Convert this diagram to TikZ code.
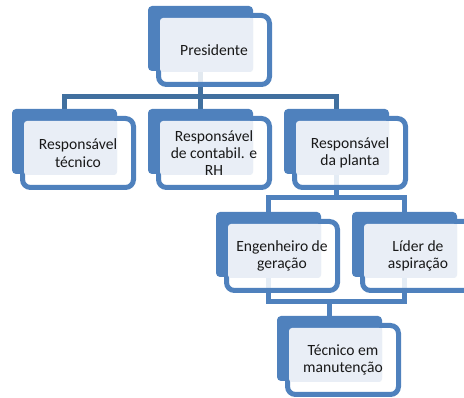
\documentclass[tikz,border=0pt]{standalone}
\usepackage{fontspec}
\setmainfont{Carlito}
\usetikzlibrary{backgrounds}
\definecolor{boxblue}{HTML}{4F81BD}
\definecolor{linkblue}{HTML}{41709F}
\definecolor{paleblue}{HTML}{E9EEF6}

% one chart unit: blue back plate, framed card, pale text plate, text
\newcommand{\orgunit}[4]{%
	\node[backbox] (#1-a) at (#2,#3) {};
	\node[framebox] (#1) at ({#2+10.5},{#3+9.5}) {};
	\node[textbox] (#1-c) at ({#2+12},{#3+12}) {};
	\node[labeltext] (#1-t) at (#1.center) {#4};
}

\begin{document}
\begin{tikzpicture}[x=1pt,y=-1pt,
		backbox/.style={rectangle, fill=boxblue, rounded corners=4pt, anchor=north west,
			minimum width=105pt, minimum height=65pt, inner sep=0pt, outer sep=0pt},
		framebox/.style={rectangle, draw=boxblue, line width=5pt, fill=white, fill opacity=0.85,
			rounded corners=8pt, anchor=north west,
			minimum width=111pt, minimum height=69pt, inner sep=0pt, outer sep=0pt},
		textbox/.style={rectangle, fill=paleblue, rounded corners=3pt, anchor=north west,
			minimum width=93pt, minimum height=54pt, inner sep=0pt, outer sep=0pt},
		labeltext/.style={align=center, text=black!90, inner sep=0pt,
			font=\fontsize{15.6}{17.3}\selectfont},
		link/.style={draw=boxblue, line width=5pt},
		toplink/.style={link, draw=linkblue}]
		\useasboundingbox (0,0) rectangle (464,398);
		\clip (0,0) rectangle (464,398);

		\orgunit{pres}{148}{6}{Presidente}
		\orgunit{resptec}{12}{109}{Responsável\\técnico}
		\orgunit{respcont}{148}{109}{Responsável\\de contabil. e\\RH}
		\orgunit{resppl}{284}{109}{Responsável\\da planta}
		\orgunit{eng}{216}{212}{Engenheiro de\\geração}
		\orgunit{lider}{352}{212}{Líder de\\aspiração}
		\orgunit{tec}{277}{316}{Técnico em\\manutenção}

		\coordinate (bar1) at (0,96.5);
		\coordinate (bar2) at (0,197.5);
		\coordinate (bar3) at (0,301.5);

		\begin{scope}[on background layer]
			\draw[toplink] (pres-a.center) -- (respcont-a.north);
			\draw[toplink] (resptec-a.north) -- (resptec-a.north |- bar1) -- (resppl-a.north |- bar1) -- (resppl-a.north);
			\draw[link] (resppl-a.center) -- (resppl-a.center |- bar2);
			\draw[link] (eng-a.north) |- (bar2 -| lider-a.north) -- (lider-a.north);
			\draw[link] (eng-a.center) |- (bar3 -| lider-a.center) -- (lider-a.center);
			\draw[link] (tec-a.north) -- (tec-a.north |- bar3);
		\end{scope}
	\end{tikzpicture}
\end{document}
